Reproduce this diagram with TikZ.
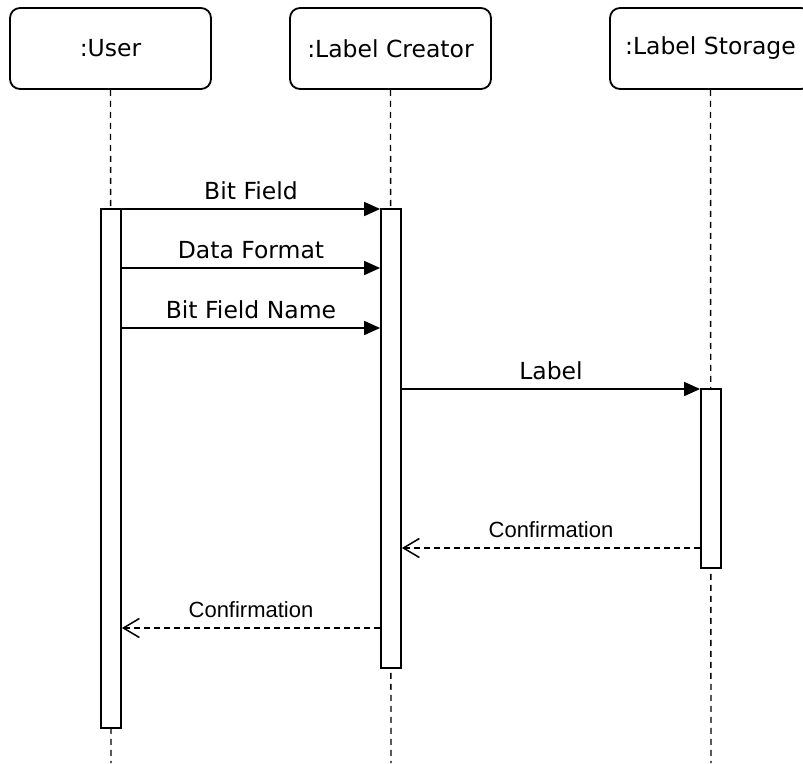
\documentclass[tikz,border=0pt]{standalone}
\usepackage{fontspec}
\setmainfont{DejaVu Sans}
\newfontfamily\arialf{Liberation Sans}
\usetikzlibrary{arrows.meta}
\tikzset{
  obj/.style={draw, line width=1.8pt, rounded corners=10pt, minimum width=201pt, minimum height=81pt, inner sep=0pt, font=\fontsize{23.5}{28}\selectfont},
  act/.style={draw, fill=white, line width=1.8pt, minimum width=20pt, inner sep=0pt},
  life/.style={line width=1.4pt, dash pattern=on 6pt off 5pt},
  msg/.style={line width=1.6pt, -{Triangle[length=16pt,width=14pt]}},
  ret/.style={line width=1.4pt, dash pattern=on 6pt off 4pt, -{Straight Barb[length=16pt,width=19pt,line width=1.5pt]}},
  mlab/.style={midway, above, inner sep=8.5pt, font=\fontsize{23.5}{28}\selectfont},
  rlab/.style={midway, above, inner sep=9.5pt, font=\arialf\fontsize{22}{26}\selectfont}
}
\begin{document}
\begin{tikzpicture}[x=1pt,y=-1pt]
\useasboundingbox (0,0) rectangle (803,763);
\fill[white] (0,0) rectangle (803,763);
% objects
\node[obj] (user) at (110.5,48.5) {:User};
\node[obj] (creator) at (390.5,48.5) {:Label Creator};
\node[obj] (storage) at (710.5,48.5) {:Label Storage};
% lifeline ends
\coordinate (ue) at (111,763);
\coordinate (ce) at (391,763);
\coordinate (se) at (711,763);
\draw[life] (user.south) -- (ue);
\draw[life] (creator.south) -- (ce);
\draw[life] (storage.south) -- (se);
% activations
\node[act, minimum height=519pt] (ua) at (111,468.5) {};
\node[act, minimum height=459pt] (ca) at (391,438.5) {};
\node[act, minimum height=179pt] (sa) at (711,478.5) {};
% message levels
\coordinate (y1) at (0,209);
\coordinate (y2) at (0,268);
\coordinate (y3) at (0,328);
\coordinate (y4) at (0,389);
\coordinate (y5) at (0,548);
\coordinate (y6) at (0,628);
\draw[msg] (ua.east |- y1) -- node[mlab] {Bit Field} (ca.west |- y1);
\draw[msg] (ua.east |- y2) -- node[mlab] {Data Format} (ca.west |- y2);
\draw[msg] (ua.east |- y3) -- node[mlab] {Bit Field Name} (ca.west |- y3);
\draw[msg] (ca.east |- y4) -- node[mlab] {Label} (sa.west |- y4);
\draw[ret] (sa.west |- y5) -- node[rlab] {Confirmation} (ca.east |- y5);
\draw[ret] (ca.west |- y6) -- node[rlab] {Confirmation} (ua.east |- y6);
\end{tikzpicture}
\end{document}
